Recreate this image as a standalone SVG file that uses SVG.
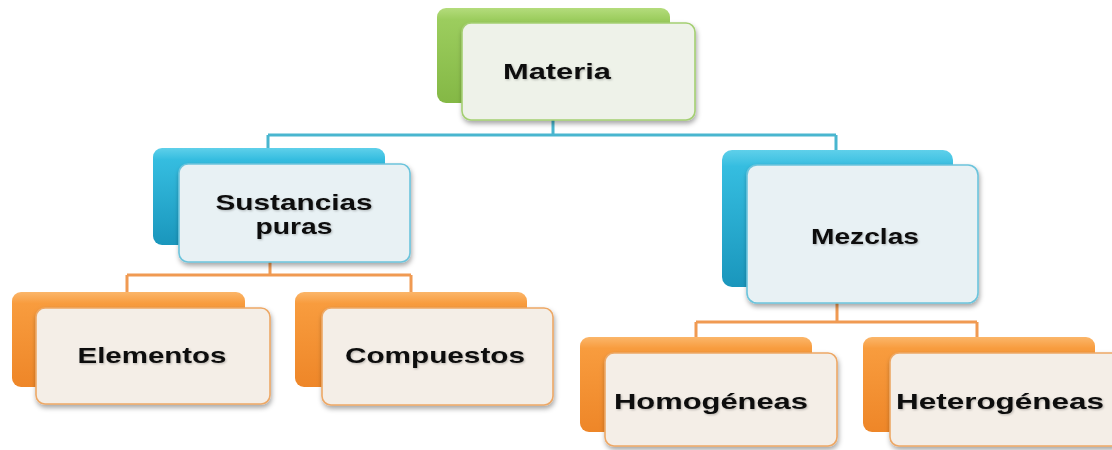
<svg xmlns="http://www.w3.org/2000/svg" width="1112" height="450" viewBox="0 0 1112 450">
<defs>
<linearGradient id="gGreen" x1="0" y1="0" x2="0" y2="1">
<stop offset="0" stop-color="#b4dc7c"/><stop offset="0.12" stop-color="#9ccd5e"/><stop offset="1" stop-color="#84b845"/>
</linearGradient>
<linearGradient id="gBlue" x1="0" y1="0" x2="0" y2="1">
<stop offset="0" stop-color="#5fd0ea"/><stop offset="0.12" stop-color="#35bde0"/><stop offset="1" stop-color="#1a96bc"/>
</linearGradient>
<linearGradient id="gOrange" x1="0" y1="0" x2="0" y2="1">
<stop offset="0" stop-color="#fbb66a"/><stop offset="0.12" stop-color="#f89c3e"/><stop offset="1" stop-color="#ee8628"/>
</linearGradient>
<filter id="sh" x="-10%" y="-10%" width="125%" height="130%">
<feDropShadow dx="1" dy="3" stdDeviation="2.5" flood-color="#000" flood-opacity="0.35"/>
</filter>
<filter id="tsh" x="-5%" y="-20%" width="110%" height="150%">
<feDropShadow dx="1" dy="1" stdDeviation="0.8" flood-color="#000" flood-opacity="0.25"/>
</filter>
</defs>
<style>
.back{stroke:none}
.front{stroke-width:1.6;filter:url(#sh)}
.fg{fill:#eef2e9;stroke:#a4cf72}
.fb{fill:#e8f1f4;stroke:#6cc4dc}
.fo{fill:#f4eee7;stroke:#eda866}
.lbl{font-family:"Liberation Sans",Arial,sans-serif;font-weight:bold;font-size:22px;fill:#111;text-anchor:middle;filter:url(#tsh)}
.cb{stroke:#49b6cf;stroke-width:3;fill:none}
.co{stroke:#f09a52;stroke-width:3;fill:none}
</style>
<rect width="1112" height="450" fill="#ffffff"/>
<g id="connectors">
<path class="cb" d="M553,118 V135 M268,135 H836 M268,135 V150 M836,135 V152"/>
<path class="co" d="M270,262 V275 M127,275 H411 M127,275 V294 M411,275 V294"/>
<path class="co" d="M837,303 V322 M696,322 H977 M696,322 V338 M977,322 V338"/>
</g>
<g id="materia">
<rect class="back" x="437" y="8" width="233" height="95" rx="9" fill="url(#gGreen)"/>
<rect class="front fg" x="462" y="23" width="233" height="97" rx="9"/>
<text class="lbl" x="557" y="79" textLength="108" lengthAdjust="spacingAndGlyphs">Materia</text>
</g>
<g id="sustancias">
<rect class="back" x="153" y="148" width="232" height="97" rx="9" fill="url(#gBlue)"/>
<rect class="front fb" x="179" y="164" width="231" height="98" rx="9"/>
<text class="lbl" x="294" y="210" textLength="157" lengthAdjust="spacingAndGlyphs">Sustancias</text>
<text class="lbl" x="294" y="234" textLength="77" lengthAdjust="spacingAndGlyphs">puras</text>
</g>
<g id="mezclas">
<rect class="back" x="722" y="150" width="231" height="137" rx="10" fill="url(#gBlue)"/>
<rect class="front fb" x="747" y="165" width="231" height="138" rx="10"/>
<text class="lbl" x="865" y="244" textLength="108" lengthAdjust="spacingAndGlyphs">Mezclas</text>
</g>
<g id="elementos">
<rect class="back" x="12" y="292" width="233" height="95" rx="9" fill="url(#gOrange)"/>
<rect class="front fo" x="36" y="308" width="234" height="96" rx="9"/>
<text class="lbl" x="152" y="363" textLength="149" lengthAdjust="spacingAndGlyphs">Elementos</text>
</g>
<g id="compuestos">
<rect class="back" x="295" y="292" width="232" height="95" rx="9" fill="url(#gOrange)"/>
<rect class="front fo" x="322" y="308" width="231" height="97" rx="9"/>
<text class="lbl" x="435" y="363" textLength="180" lengthAdjust="spacingAndGlyphs">Compuestos</text>
</g>
<g id="homogeneas">
<rect class="back" x="580" y="337" width="232" height="95" rx="9" fill="url(#gOrange)"/>
<rect class="front fo" x="605" y="353" width="232" height="93" rx="9"/>
<text class="lbl" x="711" y="409" textLength="194" lengthAdjust="spacingAndGlyphs">Homogéneas</text>
</g>
<g id="heterogeneas">
<rect class="back" x="863" y="337" width="232" height="95" rx="9" fill="url(#gOrange)"/>
<rect class="front fo" x="890" y="353" width="232" height="93" rx="9"/>
<text class="lbl" x="1000" y="409" textLength="208" lengthAdjust="spacingAndGlyphs">Heterogéneas</text>
</g>
</svg>
